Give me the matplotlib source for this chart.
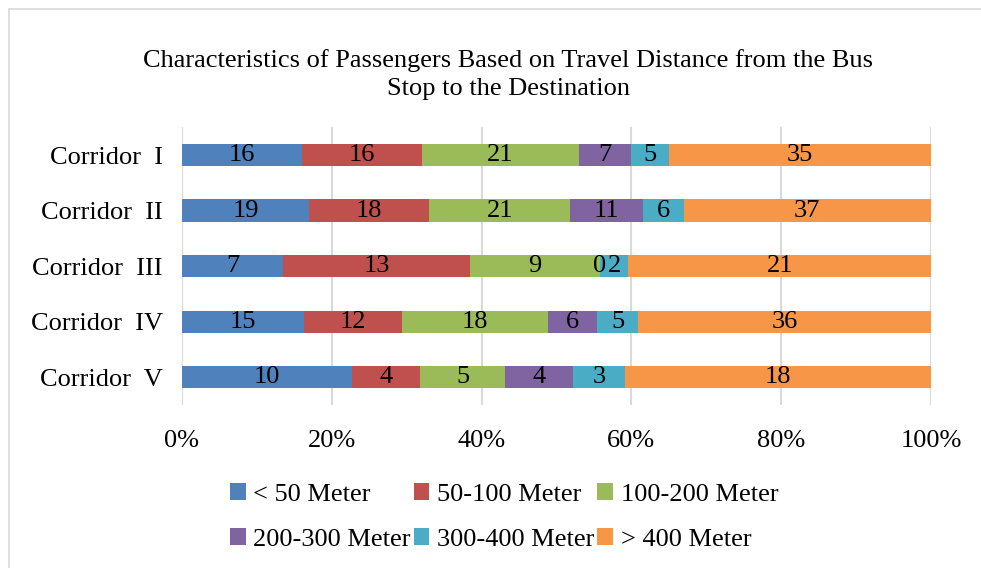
import matplotlib.pyplot as plt
import matplotlib.patches as mpatches
import numpy as np

# Data (counts per corridor, each row drawn as 100% stacked bar)
corridors = ["Corridor  I", "Corridor  II", "Corridor  III", "Corridor  IV", "Corridor  V"]
categories = ["< 50 Meter", "50-100 Meter", "100-200 Meter",
              "200-300 Meter", "300-400 Meter", "> 400 Meter"]
lt_50 = [16, 19, 7, 15, 10]
m50_100 = [16, 18, 13, 12, 4]
m100_200 = [21, 21, 9, 18, 5]
m200_300 = [7, 11, 0, 6, 4]
m300_400 = [5, 6, 2, 5, 3]
gt_400 = [35, 37, 21, 36, 18]

colors = ["#4F81BD", "#C0504D", "#9BBB59", "#8064A2", "#4BACC6", "#F79646"]

plt.rcParams['font.family'] = ['Liberation Serif', 'DejaVu Serif']
FS = 19

series = np.array([lt_50, m50_100, m100_200, m200_300, m300_400, gt_400], dtype=float)
totals = series.sum(axis=0)
shares = series / totals * 100

fig = plt.figure(figsize=(9.81, 5.68), dpi=100)
ax = fig.add_axes([0.1855, 0.287, 0.7635, 0.489])

# chart area border (only top and left edges fall inside the image)
fig.patches.append(mpatches.Rectangle((9 / 981, -0.05), 1.0, 1.05 - 9 / 568,
                                      transform=fig.transFigure, fill=False,
                                      edgecolor="#D9D9D9", linewidth=1.2))

y = np.arange(len(corridors))
left = np.zeros(len(corridors))
for k, cat in enumerate(categories):
    ax.barh(y, shares[k], left=left, height=0.4, color=colors[k], label=cat, zorder=2)
    for i in range(len(corridors)):
        ax.text(left[i] + shares[k][i] / 2, y[i], f"{int(series[k][i])}",
                ha='center', va='center', fontsize=FS, color='black', zorder=3)
    left += shares[k]

ax.set_xlim(0, 100)
ax.set_ylim(len(corridors) - 0.5, -0.5)
ax.set_yticks(y)
ax.set_yticklabels(corridors, fontsize=FS)
ax.set_xticks(np.arange(0, 101, 20))
ax.set_xticklabels([f"{v}%" for v in range(0, 101, 20)], fontsize=FS)
ax.tick_params(axis='both', length=0)
ax.tick_params(axis='x', pad=18)
ax.tick_params(axis='y', pad=14)
ax.grid(axis='x', color='#D9D9D9', linewidth=1.5, zorder=0)
ax.set_axisbelow(True)
for spine in ax.spines.values():
    spine.set_visible(False)

fig.text(0.518, 0.869, "Characteristics of Passengers Based on Travel Distance from the Bus\nStop to the Destination",
         ha='center', va='center', fontsize=FS, linespacing=1.32)

handles, labels = ax.get_legend_handles_labels()
order = [0, 3, 1, 4, 2, 5]
fig.legend([handles[i] for i in order], [labels[i] for i in order],
           loc='center', bbox_to_anchor=(0.514, 0.09), ncol=3, frameon=False,
           fontsize=FS, handlelength=0.6, handleheight=0.6, handletextpad=0.3,
           columnspacing=0.1, labelspacing=0.85)

fig.savefig("out.png", dpi=100, facecolor='white')
